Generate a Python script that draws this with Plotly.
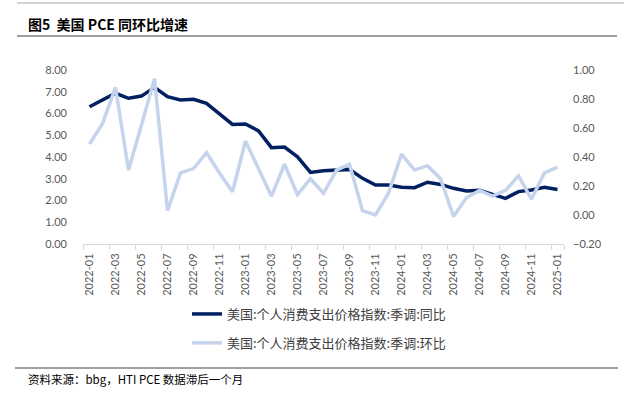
import plotly.graph_objects as go

months = [f"{y}-{m:02d}" for y in (2022, 2023, 2024) for m in range(1, 13)] + ["2025-01"]
yoy = [6.31, 6.62, 6.93, 6.70, 6.80, 7.20, 6.77, 6.62, 6.65, 6.47, 6.01, 5.50,
       5.52, 5.20, 4.43, 4.46, 4.01, 3.29, 3.37, 3.40, 3.43, 3.02, 2.71, 2.71,
       2.61, 2.59, 2.84, 2.74, 2.56, 2.44, 2.47, 2.28, 2.10, 2.41, 2.48, 2.61, 2.51]
mom = [0.49, 0.63, 0.88, 0.31, 0.62, 0.94, 0.03, 0.29, 0.32, 0.43, 0.29, 0.16,
       0.51, 0.32, 0.13, 0.35, 0.14, 0.25, 0.15, 0.31, 0.35, 0.03, 0.00, 0.15,
       0.42, 0.31, 0.34, 0.25, -0.01, 0.12, 0.17, 0.13, 0.17, 0.27, 0.11, 0.29, 0.33]
name_yoy = "美国:个人消费支出价格指数:季调:同比"
name_mom = "美国:个人消费支出价格指数:季调:环比"

W, H = 624, 399
L, R, T, B = 83, 564, 70, 244

def px_x(px):
    return (px - L) / (R - L)

def px_y(py):
    return (B - py) / (B - T)

fig = go.Figure()
fig.add_trace(go.Scatter(x=months, y=mom, name=name_mom, mode="lines", yaxis="y2",
                         line=dict(color="#C5D4EC", width=3.5), legendgroup="b", legendrank=2))
fig.add_trace(go.Scatter(x=months, y=yoy, name=name_yoy, mode="lines",
                         line=dict(color="#002060", width=3.5), legendgroup="a", legendrank=1))

tickfont = dict(family="Lato, 'Open Sans', sans-serif", size=11, color="#595959")

fig.update_layout(
    width=W, height=H,
    margin=dict(l=L, r=W - R, t=T, b=H - B),
    paper_bgcolor="white", plot_bgcolor="white",
    showlegend=True,
    legend=dict(x=px_x(187), y=px_y(299), xanchor="left", yanchor="top",
                orientation="v", tracegroupgap=9, itemwidth=30,
                font=dict(family="'Noto Sans CJK SC'", size=13, color="#404040"),
                bgcolor="rgba(0,0,0,0)"),
    xaxis=dict(type="category", categoryorder="array", categoryarray=months,
               range=[-0.5, len(months) - 0.5],
               tickmode="array", tickvals=months[::2], ticktext=months[::2],
               tickangle=-90, tickfont=dict(family="Lato, 'Open Sans', sans-serif", size=11, color="#595959"),
               showline=True, linecolor="#D9D9D9", linewidth=1,
               ticks="outside", ticklen=5, tickcolor="#D9D9D9", tickson="boundaries",
               showgrid=False, zeroline=False, ticklabelstandoff=4),
    yaxis=dict(range=[0, 8], dtick=1, tick0=0, tickformat=".2f", tickfont=tickfont,
               showgrid=False, zeroline=False, showline=False, ticks="",
               ticklabelstandoff=15),
    yaxis2=dict(range=[-0.2, 1.0], dtick=0.2, tick0=-0.2, tickformat=".2f", tickfont=tickfont,
                overlaying="y", side="right", showgrid=False, zeroline=False,
                showline=False, ticks="", ticklabelstandoff=8),
)

# header / footer rules
fig.add_shape(type="line", xref="paper", yref="paper", x0=px_x(17), x1=px_x(624),
              y0=px_y(3), y1=px_y(3), line=dict(color="#A6A6A6", width=1))
fig.add_shape(type="line", xref="paper", yref="paper", x0=px_x(17), x1=px_x(617),
              y0=px_y(36), y1=px_y(36), line=dict(color="#404040", width=1))
fig.add_shape(type="line", xref="paper", yref="paper", x0=px_x(15), x1=px_x(618),
              y0=px_y(368), y1=px_y(368), line=dict(color="#808080", width=1.5))

fig.add_annotation(text="<b>图5  美国 PCE 同环比增速</b>", xref="paper", yref="paper",
                   x=px_x(26), y=px_y(24), xanchor="left", yanchor="middle", showarrow=False,
                   font=dict(family="'Noto Sans CJK SC'", size=14, color="#000000"))
fig.add_annotation(text="资料来源：bbg，HTI PCE 数据滞后一个月", xref="paper", yref="paper",
                   x=px_x(26), y=px_y(379), xanchor="left", yanchor="middle", showarrow=False,
                   font=dict(family="'Noto Sans CJK SC'", size=11.5, color="#000000"))

fig.write_html("out.html", config={"displayModeBar": False},
               post_script="document.body.style.margin='0';")
